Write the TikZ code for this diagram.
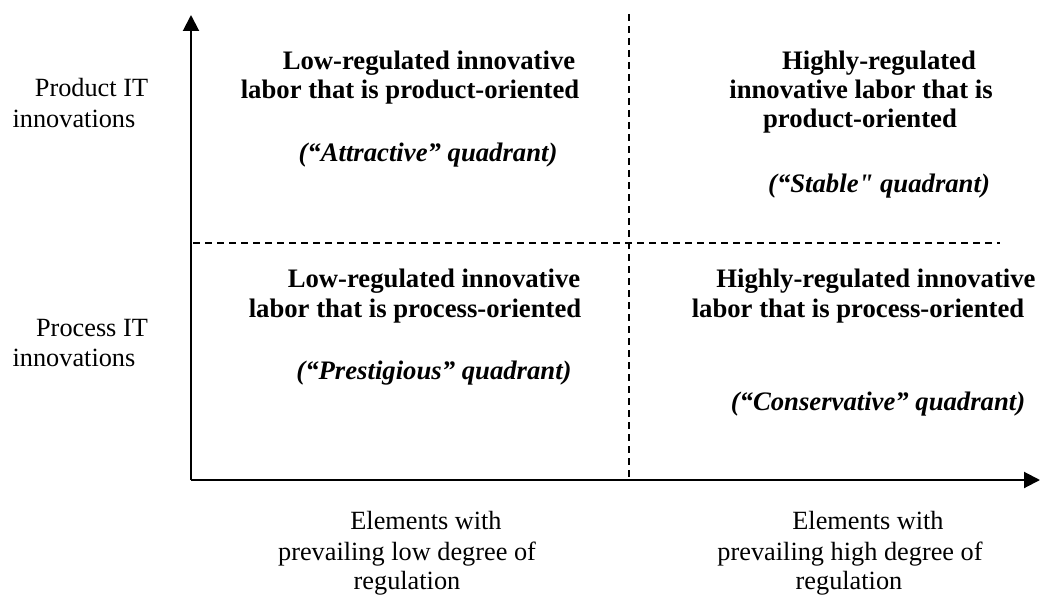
\documentclass[tikz,border=0pt]{standalone}
\usepackage{fontspec}
\setmainfont{Liberation Serif}[Ligatures=TeXOff]
\usetikzlibrary{arrows.meta}
\begin{document}
\begin{tikzpicture}[x=1pt,y=-1pt,
  txt/.style={anchor=base,inner sep=0pt,font=\fontsize{26.3}{30}\selectfont},
  bld/.style={txt,font=\fontsize{26.7}{30}\selectfont\bfseries},
  itl/.style={txt,font=\fontsize{26.7}{30}\selectfont\bfseries\itshape},
  axis/.style={line width=2pt,-{Triangle[length=16pt,width=16pt]}},
  divider/.style={line width=1.2pt,dash pattern=on 7pt off 5pt}]
\useasboundingbox (0,0) rectangle (1040,596);
% axes
\coordinate (O) at (191,480);
\coordinate (Ytop) at (191,15);
\coordinate (Xend) at (1040,480);
\draw[axis] (O) -- (Ytop);
\draw[axis] (O) -- (Xend);
% dividers
\coordinate (V1) at (629,14);
\coordinate (V2) at (629,480);
\coordinate (H1) at (193,243);
\coordinate (H2) at (1000,243);
\draw[divider] (V1) -- (V2);
\draw[divider] (H1) -- (H2);
% left labels
\node[txt] (p1) at (91.5,97) {Product IT};
\node[txt] (p2) at (74,128) {innovations};
\node[txt] (r1) at (92,336) {Process IT};
\node[txt] (r2) at (74,366) {innovations};
% bottom labels
\node[txt] (b1) at (426,529) {Elements with};
\node[txt] (b2) at (407,560) {prevailing low degree of};
\node[txt] (b3) at (407,589) {regulation};
\node[txt] (c1) at (868,529) {Elements with};
\node[txt] (c2) at (850,560) {prevailing high degree of};
\node[txt] (c3) at (849,589) {regulation};
% Q1
\node[bld] (q1a) at (429,70) {Low-regulated innovative};
\node[bld] (q1b) at (410,99) {labor that is product-oriented};
\node[itl] (q1c) at (428,162) {(“Attractive” quadrant)};
% Q2
\node[bld] (q2a) at (879,70) {Highly-regulated};
\node[bld] (q2b) at (861,99) {innovative labor that is};
\node[bld] (q2c) at (860,128) {product-oriented};
\node[itl] (q2d) at (879,193) {(“Stable" quadrant)};
% Q3
\node[bld] (q3a) at (434,287) {Low-regulated innovative};
\node[bld] (q3b) at (415,317) {labor that is process-oriented};
\node[itl] (q3c) at (434,379) {(“Prestigious” quadrant)};
% Q4
\node[bld] (q4a) at (876,287) {Highly-regulated innovative};
\node[bld] (q4b) at (858,317) {labor that is process-oriented};
\node[itl] (q4c) at (878,410) {(“Conservative” quadrant)};
\end{tikzpicture}
\end{document}
